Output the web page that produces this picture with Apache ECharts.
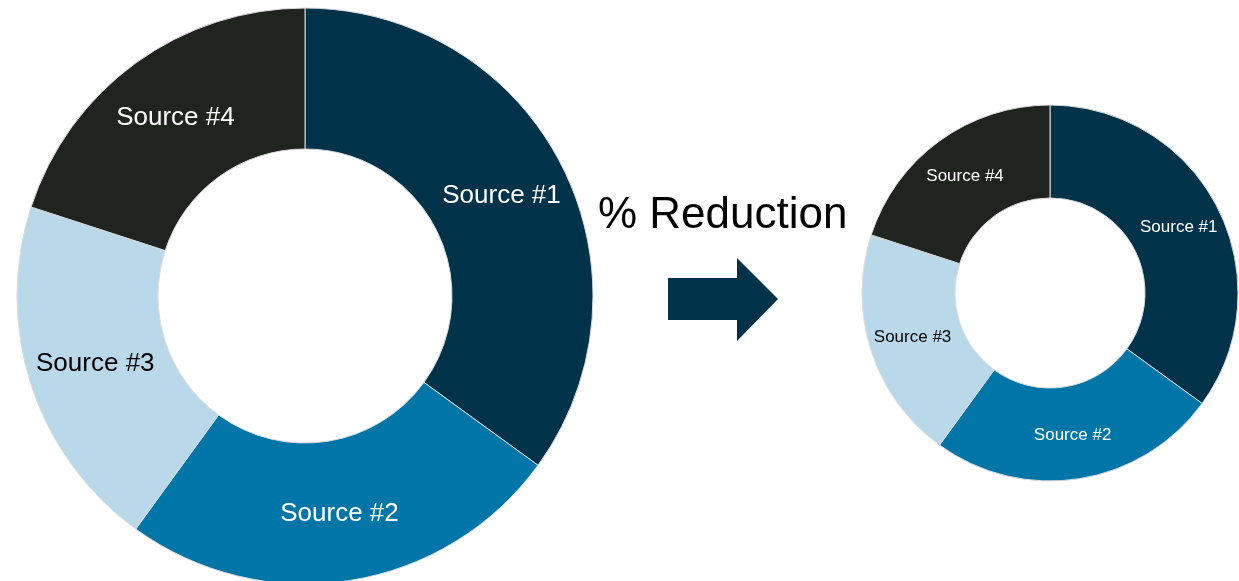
<!DOCTYPE html>
<html>
<head>
<meta charset="utf-8">
<style>
html,body{margin:0;padding:0;background:#fff;}
#chart{width:1239px;height:581px;}
</style>
<script src="https://cdn.jsdelivr.net/npm/echarts@6/dist/echarts.min.js"></script>
</head>
<body>
<div id="chart"></div>
<script>
const categories = ['Source #1', 'Source #2', 'Source #3', 'Source #4'];
const beforeValues = [35, 25, 20, 20];
const afterValues = [35, 25, 20, 20];
const sliceColors = ['#00324A', '#0075A8', '#B9D8EA', '#20241F'];
const labelColors = ['#ffffff', '#ffffff', '#000000', '#ffffff'];
const titleText = '% Reduction';

function buildData(values) {
  return categories.map((name, i) => ({
    name: name,
    value: values[i],
    itemStyle: { color: sliceColors[i] },
    label: { color: labelColors[i] }
  }));
}

const chart = echarts.init(document.getElementById('chart'), null, { renderer: 'canvas' });
chart.setOption({
  animation: false,
  backgroundColor: '#ffffff',
  series: [
    {
      type: 'pie',
      center: [305, 296],
      radius: [147, 288],
      startAngle: 90,
      clockwise: true,
      avoidLabelOverlap: false,
      itemStyle: { borderColor: '#dcdcdc', borderWidth: 1 },
      label: {
        show: true,
        position: 'inside',
        formatter: '{b}',
        fontFamily: 'Liberation Sans, Arial, sans-serif',
        fontSize: 26
      },
      labelLine: { show: false },
      emphasis: { disabled: true },
      data: buildData(beforeValues)
    },
    {
      type: 'pie',
      center: [1050, 293],
      radius: [95, 188],
      startAngle: 90,
      clockwise: true,
      avoidLabelOverlap: false,
      itemStyle: { borderColor: '#dcdcdc', borderWidth: 1 },
      label: {
        show: true,
        position: 'inside',
        formatter: '{b}',
        fontFamily: 'Liberation Sans, Arial, sans-serif',
        fontSize: 17
      },
      labelLine: { show: false },
      emphasis: { disabled: true },
      data: buildData(afterValues)
    }
  ],
  graphic: [
    {
      type: 'text',
      left: 598,
      top: 194,
      style: {
        text: titleText,
        fill: '#000000',
        font: '44px "Liberation Sans", Arial, sans-serif'
      }
    },
    {
      type: 'polygon',
      shape: {
        points: [[668, 278], [737, 278], [737, 258], [778, 299], [737, 341], [737, 320], [668, 320]]
      },
      style: { fill: '#00324A' }
    }
  ]
});
</script>
</body>
</html>
